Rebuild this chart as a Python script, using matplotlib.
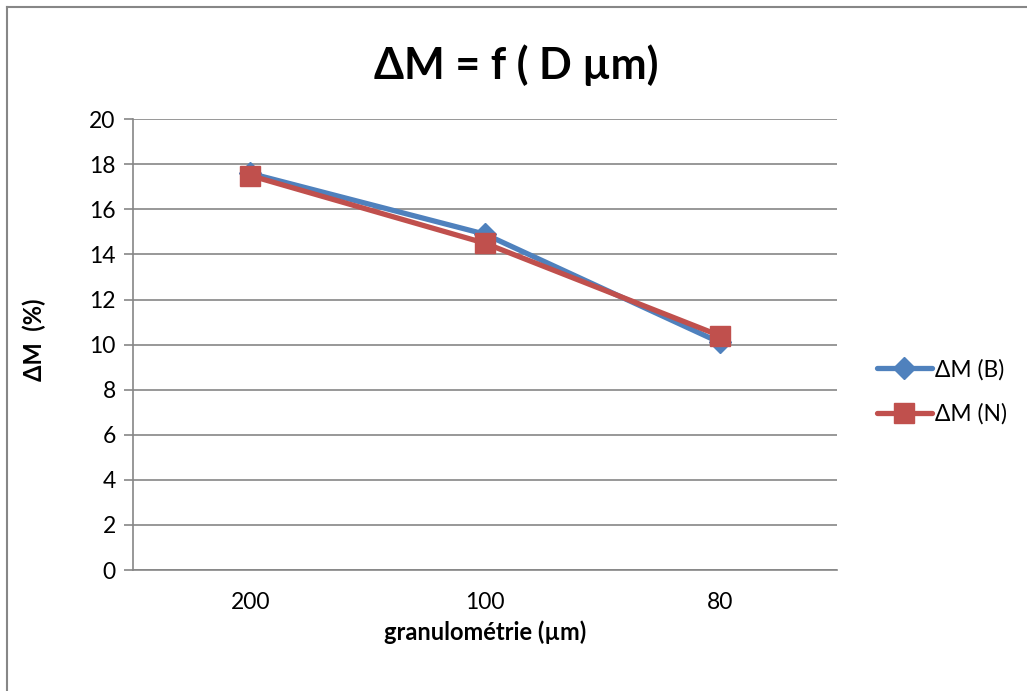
import matplotlib
matplotlib.use("Agg")
import matplotlib.pyplot as plt
from matplotlib.lines import Line2D

plt.rcParams['font.family'] = ['Lato', 'DejaVu Sans']

categories = ["200", "100", "80"]
dm_b = [17.6, 14.9, 10.1]
dm_n = [17.5, 14.5, 10.4]
y_ticks = [0, 2, 4, 6, 8, 10, 12, 14, 16, 18, 20]

BLUE = "#4F81BD"
RED = "#C0504D"
GRID = "#868686"

fig = plt.figure(figsize=(10.27, 6.91), dpi=100)
ax = fig.add_axes([0.1295, 0.1751, 0.6855, 0.6523])

x = list(range(len(categories)))
ax.plot(x, dm_b, color=BLUE, lw=3.8, marker="D", ms=11.5, label="ΔM (B)",
        solid_joinstyle="round", solid_capstyle="round")
ax.plot(x, dm_n, color=RED, lw=3.8, marker="s", ms=14.5, label="ΔM (N)",
        solid_joinstyle="round", solid_capstyle="round")

ax.set_xlim(-0.5, len(categories) - 0.5)
ax.set_ylim(0, 20)
ax.set_xticks(x)
ax.set_xticklabels(categories)
ax.set_yticks(y_ticks)
ax.tick_params(axis="x", length=0, labelsize=16.5, pad=16)
ax.tick_params(axis="y", length=6.5, width=1.2, color=GRID, labelsize=16.5, pad=6)

ax.grid(axis="y", color=GRID, lw=1.2)
ax.set_axisbelow(True)
for side in ("top", "right"):
    ax.spines[side].set_visible(False)
ax.spines["left"].set_color(GRID)
ax.spines["left"].set_linewidth(1.2)
ax.spines["bottom"].set_color(GRID)
ax.spines["bottom"].set_linewidth(1.2)

ax.set_xlabel("granulométrie (µm)", fontsize=17, fontweight="bold", labelpad=5)
fig.text(0.033, 0.509, "ΔM  (%)", rotation=90, fontsize=17, fontweight="bold",
         ha="center", va="center")
fig.text(0.503, 0.905, "ΔM = f ( D µm)", fontsize=31, fontweight="bold",
         ha="center", va="center")

ax.legend(loc="center left", bbox_to_anchor=(0.845, 0.433), bbox_transform=fig.transFigure,
          frameon=False, fontsize=16.5, handlelength=2.4, handletextpad=0.15,
          labelspacing=1.0, borderaxespad=0)

# chart frame
fig.add_artist(Line2D([0.0068, 0.0068], [0, 0.9898], transform=fig.transFigure,
                      color="#878787", lw=1.5))
fig.add_artist(Line2D([0.0068, 1.0], [0.9898, 0.9898], transform=fig.transFigure,
                      color="#878787", lw=1.5))

fig.savefig("out.png", dpi=100)
